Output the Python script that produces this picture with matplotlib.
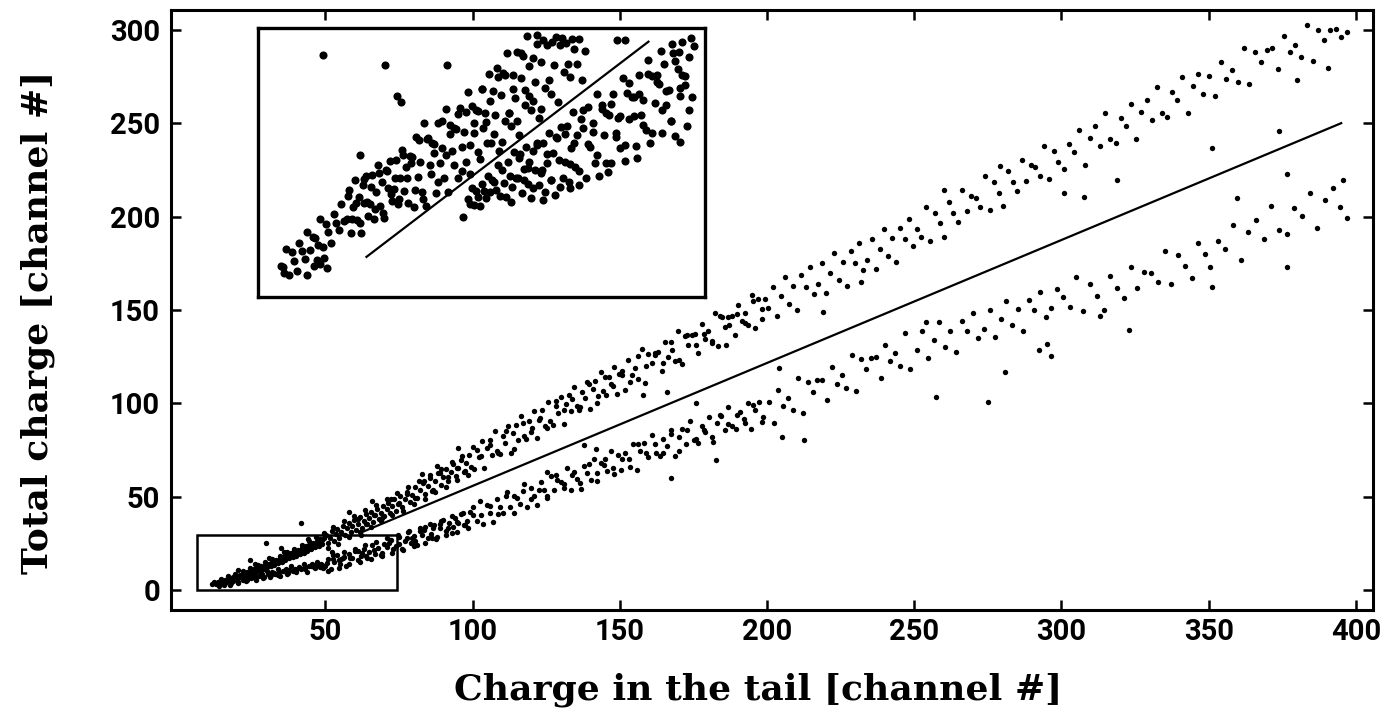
import numpy as np
import matplotlib
matplotlib.use("Agg")
import matplotlib.pyplot as plt
from matplotlib.patches import Rectangle

# ---------------------------------------------------------------- data
# events in the upper band (total charge vs. charge in the tail)
upper_band = [
    (11.5, 3.2), (12.3, 4.1), (13.0, 3.0), (13.6, 4.5), (14.2, 3.6), (14.9, 4.9), (15.5, 4.0),
    (16.1, 5.6), (16.8, 4.6), (17.4, 6.0), (18.0, 5.2), (18.7, 6.8), (19.3, 5.7), (19.9, 7.4),
    (20.4, 6.3), (21.0, 8.1), (21.6, 7.0), (22.3, 8.9), (22.9, 7.6), (23.4, 9.8), (24.0, 8.2),
    (24.7, 10.1), (25.3, 9.0), (25.9, 11.2), (26.4, 9.7), (27.1, 11.8), (27.8, 10.4), (28.3, 12.6),
    (28.9, 11.2), (29.5, 13.5), (30.2, 12.1), (30.8, 14.2), (31.4, 12.9), (32.0, 15.3), (32.7, 13.6),
    (33.3, 16.0), (33.9, 14.5), (34.5, 17.1), (35.2, 15.2), (35.8, 17.9), (36.4, 16.0), (37.0, 18.7),
    (37.7, 16.9), (38.3, 19.6), (38.9, 17.5), (39.5, 20.8), (40.2, 18.3), (40.8, 21.4), (41.4, 19.2),
    (42.0, 22.5), (42.7, 20.0), (43.3, 23.4), (43.9, 21.1), (44.6, 24.0), (45.2, 21.8), (45.8, 25.2),
    (46.4, 22.9), (47.1, 26.0), (47.7, 23.7), (48.3, 27.1), (48.9, 24.6), (49.6, 28.0),
    (20.5, 10.5), (26.0, 13.8), (31.0, 17.0), (36.0, 20.5), (44.0, 27.5), (29.8, 25.0), (41.7, 36.0),
    (24.5, 16.0), (35.0, 22.5),
    (12.6, 3.9), (13.9, 4.4), (15.2, 4.8), (16.5, 5.5), (17.8, 6.0), (19.1, 6.6), (20.4, 7.4),
    (21.7, 8.0), (23.0, 8.9), (24.3, 9.5), (25.6, 10.5), (26.9, 11.0), (28.2, 11.9), (29.5, 12.5),
    (30.8, 13.6), (32.1, 14.4), (33.4, 15.3), (34.7, 16.0), (36.0, 17.0), (37.3, 17.8), (38.6, 18.7),
    (39.9, 19.6), (41.2, 20.6), (42.5, 21.5), (43.8, 22.7), (45.1, 23.5), (46.4, 24.6), (47.7, 25.5),
    (49.0, 26.6),
    (14.5, 6.0), (17.0, 7.3), (19.5, 8.7), (22.0, 10.2), (24.5, 11.6), (27.0, 13.3), (29.5, 14.9),
    (32.0, 16.6), (34.5, 18.4), (37.0, 20.2), (39.5, 22.1), (42.0, 24.1), (44.5, 26.0), (47.0, 28.2),
    (49.5, 30.3),
    (50.3, 29.5), (51.0, 25.0), (51.6, 27.8), (52.2, 31.6), (52.9, 26.3), (53.5, 29.9), (54.1, 32.8),
    (54.8, 28.0), (55.4, 31.2), (56.0, 34.5), (56.7, 29.4), (57.3, 33.0), (57.9, 35.9), (58.6, 31.0),
    (59.2, 34.2), (59.8, 37.4), (60.5, 32.3), (61.1, 35.6), (61.8, 38.9), (62.4, 33.4), (63.0, 37.0),
    (63.7, 40.5), (64.3, 35.2), (65.0, 38.4), (65.6, 42.0), (66.3, 36.5), (66.9, 40.1), (67.5, 43.6),
    (68.2, 38.0), (68.8, 41.5), (69.5, 45.1), (70.1, 39.6), (70.8, 43.2), (71.4, 46.8), (72.1, 41.0),
    (72.7, 44.8), (73.4, 48.6), (74.0, 42.5), (74.7, 46.3), (75.3, 50.2), (76.2, 44.6), (77.0, 48.5),
    (77.9, 52.6), (78.8, 46.9), (79.6, 51.0), (80.5, 55.0), (81.3, 49.2), (82.2, 53.3), (83.1, 57.4),
    (84.0, 51.5), (84.8, 55.7), (85.7, 59.9), (86.6, 53.8), (87.4, 58.2), (88.3, 62.4), (89.2, 56.0),
    (90.0, 60.6), (90.9, 64.8), (91.8, 58.5), (92.6, 63.0), (93.5, 67.3), (94.4, 60.9), (95.2, 65.4),
    (96.1, 69.8), (97.0, 63.2), (97.8, 67.8), (98.7, 72.3), (99.5, 65.7),
    (58.0, 42.0), (66.0, 47.5), (83.0, 62.0), (95.0, 76.0), (88.0, 66.5), (62.0, 29.5),
    (61.0, 37.9), (63.8, 35.5), (66.6, 40.3), (69.4, 38.5), (72.2, 48.8), (75.0, 46.4), (77.8, 51.4),
    (80.6, 49.5), (83.4, 58.3), (86.2, 52.8), (89.0, 62.9), (91.8, 60.7), (94.6, 65.6), (97.4, 64.0),
    (50.8, 22.6), (52.6, 33.5), (54.4, 24.9), (56.2, 36.8), (58.1, 28.4), (59.9, 39.5), (61.7, 31.0),
    (63.5, 42.6), (65.4, 33.8), (67.2, 45.3), (69.0, 37.2), (70.9, 48.9), (72.7, 40.0), (74.5, 51.8),
    (76.4, 42.4), (78.2, 55.4), (80.0, 46.3), (81.9, 58.4), (83.7, 49.0), (85.5, 61.5), (87.4, 52.3),
    (89.2, 65.0), (91.0, 55.0), (92.9, 68.6), (94.7, 58.8), (96.5, 72.0), (98.4, 61.5),
    (100.5, 65.0), (101.4, 74.8), (102.3, 71.1), (103.1, 79.9), (104.0, 65.4), (104.9, 76.1),
    (105.8, 80.5), (106.7, 72.3), (107.6, 85.2), (108.4, 74.7), (109.3, 72.8), (110.2, 82.6),
    (111.1, 78.9), (112.0, 87.8), (112.9, 73.3), (113.8, 83.9), (114.7, 88.3), (115.6, 80.1),
    (116.5, 93.0), (117.4, 82.6), (118.3, 80.7), (119.2, 90.5), (120.1, 86.8), (121.0, 95.7),
    (121.9, 81.2), (122.8, 91.9), (123.7, 96.3), (124.6, 88.0), (125.5, 100.9), (126.4, 90.5),
    (127.3, 88.6), (128.2, 98.4), (129.1, 94.7), (130.0, 103.6), (130.9, 89.1), (131.8, 99.8),
    (132.7, 104.2), (133.6, 96.0), (134.5, 108.9), (135.4, 98.5), (136.3, 96.6), (137.2, 106.3),
    (138.1, 102.6), (139.0, 111.5), (139.9, 97.0), (140.8, 107.7), (141.7, 112.1), (142.6, 103.9),
    (143.5, 116.8), (144.4, 106.4), (145.3, 104.5), (146.2, 114.3), (147.1, 110.5), (148.0, 119.4),
    (148.9, 104.9), (149.8, 115.6),
    (100.2, 76.5), (103.0, 71.7), (105.8, 77.8), (108.6, 73.5), (111.4, 85.4), (114.2, 75.7),
    (117.0, 89.5), (119.8, 84.7), (122.6, 90.8), (125.4, 87.0), (128.2, 101.1), (131.0, 96.4),
    (133.8, 102.4), (136.6, 98.2), (139.4, 110.1), (142.2, 100.4), (145.0, 114.1), (147.8, 109.4),
    (150.6, 117.5), (151.7, 107.3), (152.9, 123.3), (154.0, 115.1), (155.1, 119.0), (156.3, 112.9),
    (157.4, 128.8), (158.5, 111.1), (159.7, 126.6), (160.8, 121.4), (161.9, 126.8), (163.1, 127.2),
    (164.2, 117.1), (165.3, 132.9), (166.5, 124.9), (167.6, 128.7), (168.7, 122.6), (169.9, 138.5),
    (171.0, 120.9), (172.1, 136.2), (173.3, 131.2), (174.4, 136.5), (175.5, 136.9), (176.7, 126.8),
    (177.8, 142.7), (178.9, 134.5), (180.1, 138.5), (181.2, 132.3), (182.3, 148.2), (183.5, 130.6),
    (184.6, 146.0), (185.7, 140.8), (186.9, 146.3), (188.0, 146.6), (189.1, 136.5), (190.3, 152.4),
    (191.4, 144.3), (192.5, 148.2), (193.7, 142.1), (194.8, 158.0), (195.9, 140.3), (197.1, 155.7),
    (198.2, 150.6), (199.3, 156.0),
    (150.6, 115.4), (153.4, 111.3), (156.2, 125.1), (159.0, 120.1), (161.8, 125.9), (164.6, 121.4),
    (167.4, 133.0), (170.2, 123.1), (173.0, 136.4), (175.8, 131.4), (178.6, 137.2), (181.4, 133.1),
    (184.2, 147.0), (187.0, 142.0), (189.8, 147.7), (192.6, 143.2), (195.4, 154.8), (198.2, 144.9),
    (166.0, 106.0), (176.0, 100.0), (204.2, 118.9), (186.0, 131.0), (158.0, 104.5),
    (200.5, 151.0), (201.9, 162.2), (203.3, 146.5), (204.7, 157.2), (206.1, 167.8), (207.5, 153.3),
    (208.9, 162.8), (210.3, 150.0), (211.7, 168.5), (213.1, 162.4), (214.5, 173.0), (215.9, 158.5),
    (217.3, 163.7), (218.7, 175.0), (220.1, 159.3), (221.5, 169.9), (222.9, 180.6), (224.3, 166.1),
    (225.7, 175.5), (227.1, 162.8), (228.5, 181.3), (229.9, 175.1), (231.3, 185.8), (232.7, 171.3),
    (234.1, 176.5), (235.5, 187.8), (236.9, 172.0), (238.3, 182.7), (239.7, 193.4), (241.1, 178.8),
    (242.5, 188.3), (243.9, 175.6), (245.3, 194.0), (246.7, 187.9), (248.1, 198.6), (249.5, 184.0),
    (218.9, 149.0), (232.0, 165.0),
    (250.8, 193.5), (252.4, 188.8), (253.9, 205.0), (255.5, 187.1), (257.0, 202.1), (258.6, 196.3),
    (260.1, 189.1), (261.7, 207.8), (263.2, 201.8), (264.8, 197.1), (266.3, 214.0), (267.9, 202.7),
    (269.4, 211.1), (271.0, 210.0), (272.5, 205.3), (274.1, 221.6), (275.6, 203.6), (277.2, 218.7),
    (278.7, 212.7), (280.3, 205.6), (281.8, 224.3), (283.4, 218.4), (284.9, 213.6), (286.5, 230.5),
    (288.0, 219.2), (289.6, 227.7), (291.1, 226.5), (292.7, 221.8), (294.2, 238.0), (295.8, 220.2),
    (297.3, 235.2), (298.9, 229.3), (260.0, 214.0), (279.0, 227.0),
    (300.9, 225.5), (302.6, 238.9), (304.4, 234.3), (306.1, 246.5), (307.9, 227.5), (309.6, 242.1),
    (311.4, 248.3), (313.1, 237.7), (314.9, 255.3), (316.6, 241.7), (318.4, 239.5), (320.1, 252.9),
    (321.9, 248.3), (323.6, 260.5), (325.4, 241.5), (327.1, 256.1), (328.9, 262.3), (330.6, 251.7),
    (332.4, 269.3), (334.1, 255.7), (335.9, 253.5), (337.6, 266.9), (339.4, 262.3), (341.1, 274.5),
    (342.9, 255.5), (344.6, 270.1), (346.4, 276.3), (348.1, 265.7),
    (301.0, 212.6), (307.8, 210.5), (318.7, 219.6), (351.0, 236.7),
    (350.2, 275.4), (352.1, 264.6), (354.1, 282.5), (356.0, 273.9), (358.0, 278.5), (359.9, 272.1),
    (361.9, 290.0), (363.8, 270.9), (365.8, 288.2), (367.7, 282.9), (369.7, 289.2), (371.6, 290.0),
    (373.6, 279.2), (375.5, 296.9), (377.5, 287.9), (379.4, 292.1), (381.4, 285.3), (383.3, 302.6),
    (385.3, 283.1), (387.2, 300.0), (389.2, 294.3), (391.1, 300.1), (393.1, 300.4), (395.0, 296.0),
    (374.0, 246.0), (390.4, 279.6), (380.0, 273.0), (397.0, 299.0),
]

# events in the lower band
lower_band = [
    (14.0, 2.3), (14.9, 4.4), (15.8, 3.6), (16.7, 5.4), (17.6, 2.9), (18.5, 5.0), (19.4, 5.8),
    (20.3, 4.5), (21.2, 6.9), (22.1, 5.1), (23.0, 4.9), (23.9, 7.0), (24.8, 6.2), (25.7, 8.0),
    (26.6, 5.6), (27.5, 7.7), (28.4, 8.5), (29.3, 7.2), (30.2, 10.0), (31.1, 6.8), (32.0, 9.8),
    (32.9, 8.6), (33.8, 11.1), (34.7, 7.3), (35.6, 10.3), (36.5, 11.5), (37.4, 9.3), (38.3, 12.7),
    (39.2, 10.0), (40.1, 9.5), (41.0, 12.5), (41.9, 11.2), (42.8, 13.7), (43.7, 9.8), (44.6, 12.8),
    (45.5, 13.9), (46.4, 11.7), (47.3, 15.0), (48.2, 12.3), (49.1, 11.8),
    (30.6, 8.4), (32.5, 9.0), (34.2, 9.4), (36.0, 10.1), (37.8, 10.7), (39.6, 11.4), (41.4, 11.8),
    (43.2, 12.4), (45.0, 13.1), (46.8, 13.4), (48.6, 14.0), (50.5, 14.6), (52.5, 16.5), (54.5, 16.0),
    (56.5, 17.6), (58.5, 17.0),
    (15.5, 2.6), (18.0, 3.6), (20.5, 3.8), (23.5, 5.6), (26.0, 6.4), (28.8, 6.3), (31.5, 8.0),
    (34.0, 8.2), (37.0, 8.8), (40.0, 10.5), (43.0, 11.0), (46.0, 12.3), (48.8, 13.3),
    (50.0, 12.7), (51.0, 16.6), (52.0, 11.4), (53.0, 15.1), (54.0, 18.7), (55.0, 14.0), (56.0, 17.2),
    (57.0, 13.1), (58.0, 19.3), (59.0, 17.4), (60.0, 21.0), (61.0, 16.3), (62.0, 18.1), (63.0, 22.0),
    (64.0, 16.9), (65.0, 20.5), (66.0, 24.2), (67.0, 19.5), (68.0, 22.7), (69.0, 18.6), (70.0, 24.9),
    (71.0, 22.9), (72.0, 26.6), (73.0, 21.9), (74.0, 23.7), (75.0, 28.3), (76.0, 21.8), (77.0, 26.4),
    (78.0, 30.9), (79.0, 25.0), (80.0, 29.1), (81.0, 23.9), (82.0, 31.7), (83.0, 29.3), (84.0, 33.8),
    (85.0, 27.9), (86.0, 30.2), (87.0, 35.0), (88.0, 28.6), (89.0, 33.1), (90.0, 37.7), (91.0, 31.8),
    (92.0, 35.8), (93.0, 30.6), (94.0, 38.4), (95.0, 36.0), (96.0, 40.6), (97.0, 34.6), (98.0, 36.9),
    (99.0, 41.7), (55.5, 16.5), (62.5, 20.0), (71.5, 25.0), (79.5, 28.0), (86.5, 33.0), (93.5, 34.0),
    (52.3, 20.4),
    (61.0, 20.7), (63.8, 18.4), (66.6, 21.5), (69.4, 19.7), (72.2, 26.9), (75.0, 24.6), (77.8, 27.9),
    (80.6, 26.1), (83.4, 32.4), (86.2, 27.9), (89.0, 35.1), (91.8, 33.0), (94.6, 36.5), (97.4, 34.8),
    (50.9, 10.4), (52.7, 18.6), (54.5, 11.6), (56.3, 20.1), (58.2, 13.9), (60.0, 22.2), (61.8, 15.1),
    (63.6, 24.0), (65.5, 16.8), (67.3, 25.9), (69.1, 18.0), (71.0, 27.8), (72.8, 19.7), (74.6, 29.4),
    (76.5, 21.3), (78.3, 31.6), (80.1, 23.5), (82.0, 33.4), (83.8, 25.1), (85.6, 35.3), (87.5, 27.3),
    (89.3, 37.0), (91.1, 29.5), (93.0, 39.4), (94.8, 31.3), (96.6, 41.2), (98.5, 33.4),
    (100.3, 40.4), (101.4, 37.0), (102.6, 47.8), (103.7, 35.6), (104.9, 45.5), (106.0, 41.4),
    (107.1, 36.5), (108.3, 48.8), (109.4, 44.6), (110.5, 41.3), (111.7, 52.4), (112.8, 44.7),
    (114.0, 50.2), (115.1, 49.3), (116.2, 45.9), (117.4, 56.6), (118.5, 44.5), (119.7, 54.4),
    (120.8, 50.3), (121.9, 45.3), (123.1, 57.7), (124.2, 53.5), (125.4, 50.2), (126.5, 61.3),
    (127.6, 53.6), (128.8, 59.1), (129.9, 58.1), (131.0, 54.8), (132.2, 65.5), (133.3, 53.4),
    (134.5, 63.3), (135.6, 59.2), (136.7, 54.2), (137.9, 66.5), (139.0, 62.4), (140.2, 59.1),
    (141.3, 70.2), (142.4, 62.4), (143.6, 68.0), (144.7, 67.0), (145.8, 63.7), (147.0, 74.4),
    (148.1, 62.3), (149.3, 72.2), (125.4, 63.2), (138.0, 77.7), (142.0, 75.5),
    (100.2, 44.7), (103.0, 40.0), (105.8, 44.9), (108.6, 40.6), (111.4, 50.6), (114.2, 41.5),
    (117.0, 53.2), (119.8, 48.5), (122.6, 53.4), (125.4, 49.4), (128.2, 61.5), (131.0, 56.8),
    (133.8, 61.7), (136.6, 57.4), (139.4, 67.4), (142.2, 58.3), (145.0, 70.0), (147.8, 65.3),
    (150.5, 64.2), (151.8, 73.4), (153.1, 69.9), (154.4, 78.3), (155.7, 64.5), (157.0, 74.6),
    (158.3, 78.7), (159.6, 71.0), (160.9, 83.2), (162.2, 73.3), (163.5, 71.5), (164.8, 80.7),
    (166.1, 77.2), (167.4, 85.5), (168.7, 71.9), (170.0, 81.9), (171.3, 86.0), (172.6, 78.3),
    (173.9, 90.5), (175.2, 80.6), (176.5, 78.7), (177.8, 88.0), (179.1, 84.5), (180.4, 92.8),
    (181.7, 79.2), (183.0, 89.2), (184.3, 93.3), (185.6, 85.5), (186.9, 97.8), (188.2, 87.9),
    (189.5, 86.0), (190.8, 95.2), (192.1, 91.8), (193.4, 100.1), (194.7, 86.4), (196.0, 96.5),
    (197.3, 100.6), (198.6, 92.8), (167.5, 60.0), (182.8, 69.6), (205.0, 82.0), (212.7, 80.3),
    (150.6, 70.1), (153.4, 66.1), (156.2, 78.1), (159.0, 73.2), (161.8, 78.0), (164.6, 73.6),
    (167.4, 83.5), (170.2, 74.3), (173.0, 85.9), (175.8, 81.0), (178.6, 85.8), (181.4, 81.8),
    (184.2, 93.8), (186.9, 88.9), (189.8, 93.7), (192.6, 89.3), (195.4, 99.2), (198.2, 90.0),
    (200.6, 100.7), (202.3, 89.7), (203.9, 107.3), (205.6, 98.5), (207.2, 102.9), (208.9, 96.3),
    (210.5, 113.8), (212.2, 94.6), (213.8, 111.6), (215.5, 106.1), (217.1, 112.2), (218.8, 112.7),
    (220.4, 101.7), (222.1, 119.3), (223.7, 110.4), (225.4, 114.9), (227.0, 108.2), (228.7, 125.8),
    (230.3, 106.5), (232.0, 123.6), (233.6, 118.1), (235.3, 124.2), (236.9, 124.7), (238.6, 113.7),
    (240.2, 131.2), (241.9, 122.5), (243.5, 126.8), (245.2, 120.2), (246.8, 137.8), (248.5, 118.5),
    (254.0, 143.5), (275.0, 100.7), (257.4, 103.5), (292.5, 128.5), (295.0, 132.0), (296.5, 125.5),
    (280.7, 116.8),
    (250.9, 128.3), (252.8, 138.6), (254.7, 124.1), (256.6, 133.9), (258.5, 143.6), (260.4, 130.3),
    (262.3, 138.9), (264.2, 127.2), (266.1, 144.1), (268.0, 138.5), (269.9, 148.2), (271.8, 134.9),
    (273.7, 139.7), (275.6, 150.0), (277.5, 135.5), (279.4, 145.3), (281.3, 155.0), (283.2, 141.7),
    (285.1, 150.3), (287.0, 138.6), (288.9, 155.5), (290.8, 149.9), (292.7, 159.6), (294.6, 146.3),
    (296.5, 151.1), (298.4, 161.4),
    (300.5, 157.0), (302.8, 151.8), (305.1, 167.6), (307.4, 149.3), (309.7, 163.9), (312.0, 157.5),
    (314.3, 149.9), (316.6, 168.2), (318.9, 161.8), (321.2, 156.6), (323.5, 173.1), (325.8, 161.5),
    (328.1, 170.3), (330.4, 169.5), (332.7, 165.0), (335.0, 181.6), (337.3, 164.0), (339.6, 179.3),
    (341.9, 173.7), (344.2, 166.9), (346.5, 185.8), (348.8, 180.2), (323.0, 139.0), (313.0, 146.5),
    (350.5, 173.1), (353.1, 186.9), (355.7, 182.7), (358.3, 195.2), (360.9, 176.6), (363.5, 191.6),
    (366.1, 198.2), (368.7, 187.9), (371.3, 205.9), (373.9, 192.7), (376.5, 190.8), (379.1, 204.4),
    (381.7, 200.1), (384.3, 212.6), (386.9, 193.9), (389.5, 208.8), (392.1, 215.3), (394.7, 205.0),
    (395.5, 219.6), (376.5, 223.0), (397.0, 199.0), (376.5, 173.0), (351.0, 162.0), (359.5, 210.0),
]

# separation line drawn between the two bands
cut_x = [62.0, 395.0]
cut_y = [30.7, 250.0]

# region shown enlarged in the inset
zoom_x = (6.5, 74.5)
zoom_y = (0.0, 29.5)

# enlarged view: upper and lower groups of events and their separation line
inset_upper = [
    (10.0, 3.4), (10.4, 2.6), (10.8, 5.3), (11.2, 2.4), (11.6, 4.9), (12.0, 4.0), (12.4, 2.8),
    (12.8, 5.9), (13.2, 5.0), (13.6, 4.2), (14.0, 7.1), (14.4, 5.2), (14.8, 6.6), (15.2, 6.5),
    (15.6, 5.7), (16.0, 8.5), (16.4, 5.5), (16.8, 8.0), (17.2, 7.1), (17.6, 5.9), (18.0, 9.1),
    (18.4, 8.1), (18.8, 7.3), (19.2, 10.2), (19.6, 8.3),
    (15.4, 4.1), (16.0, 3.6), (16.6, 4.3), (15.0, 3.4), (17.0, 3.2), (13.9, 2.4), (10.3, 3.3),
    (20.0, 8.6), (20.3, 11.7), (20.6, 7.0), (20.9, 9.9), (21.2, 12.8), (21.5, 8.4), (21.8, 11.0),
    (22.1, 7.0), (22.4, 12.3), (22.7, 10.3), (23.0, 13.3), (23.3, 8.9), (23.6, 10.2), (23.9, 13.4),
    (24.2, 8.6), (24.5, 11.5), (24.8, 14.5), (25.1, 10.0), (25.4, 12.6), (25.7, 8.7), (26.0, 13.9),
    (26.3, 11.9), (26.6, 14.9), (26.9, 10.5), (27.2, 11.8), (27.5, 15.0), (27.8, 10.2), (28.1, 13.1),
    (28.4, 16.1), (28.7, 11.6), (29.0, 14.3), (29.3, 10.3), (29.6, 15.5),
    (30.0, 15.3), (30.3, 9.9), (30.6, 17.6), (30.9, 13.2), (31.2, 14.8), (31.5, 11.5), (31.8, 19.1),
    (32.1, 10.0), (32.4, 17.4), (32.7, 14.5), (33.0, 16.9), (33.3, 16.8), (33.6, 11.4), (33.9, 19.1),
    (34.2, 14.7), (34.5, 16.3), (34.8, 13.0), (35.1, 20.6), (35.4, 11.5), (35.7, 18.9), (36.0, 16.0),
    (36.3, 18.5), (36.6, 18.4), (36.9, 13.1), (37.2, 20.7), (37.5, 16.4), (37.8, 18.1), (38.1, 14.8),
    (38.4, 22.5), (38.7, 13.5), (39.0, 20.9), (39.3, 18.0), (39.6, 20.5), (39.9, 20.4), (40.2, 15.1),
    (40.5, 22.8), (40.8, 18.5), (41.1, 20.2), (41.4, 16.9), (41.7, 24.5),
    (42.0, 16.9), (42.3, 22.6), (42.6, 20.0), (42.9, 25.1), (43.2, 16.0), (43.5, 22.2), (43.8, 24.6),
    (44.1, 19.3), (44.4, 26.8), (44.7, 20.2), (45.0, 18.7), (45.3, 24.4), (45.6, 21.8), (45.9, 26.9),
    (46.2, 17.8), (46.5, 24.0), (46.8, 26.4), (47.1, 21.1), (47.4, 28.6), (47.7, 22.0), (48.0, 20.5),
    (48.3, 26.2), (48.6, 23.6), (48.9, 28.7), (49.2, 19.6), (49.5, 25.8), (49.8, 28.2), (50.1, 22.9),
    (50.4, 27.6), (50.7, 23.8), (51.0, 22.3), (51.3, 28.0), (51.6, 25.4), (51.9, 28.5), (52.2, 21.4),
    (52.5, 27.6), (52.8, 28.4), (53.1, 24.7), (53.4, 27.9), (53.7, 25.6), (54.0, 24.1), (54.3, 28.3),
    (54.6, 27.2), (55.0, 25.5), (55.4, 28.3), (55.8, 23.8), (56.2, 27.0),
    (20.15, 11.1), (20.75, 8.6), (21.35, 10.3), (21.95, 8.1), (22.55, 12.9), (23.15, 10.4),
    (23.75, 12.1), (24.35, 9.7), (24.95, 13.6), (25.55, 9.2), (26.15, 13.8), (26.75, 11.3),
    (27.35, 13.0), (27.95, 10.8), (28.55, 15.6), (29.15, 13.1), (29.75, 14.7), (30.35, 11.7),
    (30.95, 17.2), (31.55, 10.8), (32.15, 17.3), (32.75, 13.5), (33.35, 15.8), (33.95, 12.6),
    (34.55, 19.3), (35.15, 15.6), (35.75, 17.9), (36.35, 14.5), (36.95, 20.1), (37.55, 13.8),
    (38.15, 20.3), (38.75, 16.7), (39.35, 19.1), (39.95, 15.9), (40.55, 22.8), (41.15, 19.2),
    (41.75, 21.5), (42.35, 17.9), (42.95, 24.1), (43.55, 17.0), (44.15, 24.3), (44.75, 20.2),
    (45.35, 22.8), (45.95, 19.3), (46.55, 26.8), (47.15, 22.7), (47.75, 25.3), (48.35, 21.5),
    (48.95, 27.7), (49.55, 20.6),
    (16.4, 26.5), (25.8, 25.4), (35.2, 25.4), (27.6, 22.0), (28.3, 21.4), (22.0, 15.6),
    (61.1, 28.2), (62.4, 28.2),
]

inset_lower = [
    (38.5, 10.7), (38.8, 10.2), (39.1, 11.9), (39.4, 10.1), (39.7, 11.6), (40.0, 11.0), (40.3, 10.0),
    (40.6, 12.4), (40.9, 11.6), (41.2, 10.85), (41.5, 13.3), (41.8, 11.5), (42.1, 12.8), (42.4, 12.6),
    (42.7, 11.7), (43.0, 14.5), (43.3, 11.1), (43.6, 13.9), (43.9, 12.5), (44.2, 11.0), (44.5, 14.8),
    (44.8, 13.3), (45.1, 12.1), (45.4, 15.9), (45.7, 13.0),
    (46.0, 13.0), (46.3, 15.7), (46.6, 11.4), (46.9, 14.0), (47.2, 16.5), (47.5, 12.4), (47.8, 14.85),
    (48.1, 10.9), (48.4, 16.0), (48.7, 13.9), (49.0, 16.9), (49.3, 12.3), (49.6, 13.6), (49.9, 16.9),
    (50.2, 11.5), (50.5, 14.7), (50.8, 18.0), (51.1, 12.8), (51.4, 15.8), (51.7, 11.2), (52.0, 17.4),
    (52.3, 15.0), (52.6, 18.6), (52.9, 13.1), (53.2, 14.8), (53.5, 18.7), (53.8, 12.6), (54.1, 16.3),
    (54.4, 20.3), (54.7, 14.3), (55.0, 17.8), (55.3, 12.3), (55.6, 19.5),
    (56.0, 18.5), (56.35, 13.1), (56.7, 20.8), (57.05, 16.4), (57.4, 18.1), (57.75, 14.7),
    (58.1, 22.3), (58.45, 13.25), (58.8, 20.6), (59.15, 17.8), (59.5, 20.15), (59.85, 20.0),
    (60.2, 14.7), (60.55, 22.3), (60.9, 18.0), (61.25, 19.6), (61.6, 16.3), (61.95, 24.0),
    (62.3, 14.95), (62.65, 22.4), (63.0, 19.5), (63.35, 21.95), (63.7, 21.9), (64.05, 16.6),
    (64.4, 24.3), (64.75, 20.0), (65.1, 21.6), (65.45, 18.3), (65.8, 26.0), (66.15, 16.85),
    (66.5, 24.2), (66.85, 21.3), (67.2, 23.55), (67.55, 23.4), (67.9, 18.0), (68.25, 25.6),
    (68.6, 21.1), (68.95, 22.7), (69.3, 19.3), (69.65, 26.8), (70.0, 17.65), (70.35, 25.0),
    (70.7, 22.0), (71.05, 24.35), (71.4, 24.2), (71.75, 18.7), (72.1, 26.3), (72.45, 21.9),
    (72.8, 27.5),
    (71.0, 28.0), (72.3, 28.4), (69.5, 27.8), (67.8, 27.0), (70.6, 26.9),
    (46.2, 15.2), (46.9, 12.85), (47.6, 14.2), (48.3, 12.0), (49.0, 16.7), (49.7, 13.9),
    (50.4, 15.7), (51.1, 12.8), (51.8, 17.5), (52.5, 12.1), (53.2, 17.9), (53.9, 14.6),
    (54.6, 16.9), (55.3, 13.8), (56.0, 20.5), (56.7, 16.8), (57.4, 19.1), (58.1, 15.55),
    (58.8, 21.1), (59.5, 14.65), (60.2, 21.2), (60.9, 17.5), (61.6, 19.8), (62.3, 16.7),
    (63.0, 23.5), (63.7, 19.9), (64.4, 22.3), (65.1, 18.85), (65.8, 24.5), (66.5, 17.95),
    (67.2, 24.3), (67.9, 20.5), (68.6, 22.6), (69.3, 19.3), (70.0, 25.9), (70.7, 22.9),
    (71.4, 23.2), (72.1, 20.55),
    (70.7, 17.0), (64.1, 15.2), (59.7, 13.7), (54.0, 12.0), (49.9, 10.6), (45.0, 10.4),
    (37.7, 8.8),
]

inset_cut_x = [23.0, 65.9]
inset_cut_y = [4.4, 28.0]

x_ticks = [50, 100, 150, 200, 250, 300, 350, 400]
y_ticks = [0, 50, 100, 150, 200, 250, 300]
x_title = "Charge in the tail [channel #]"
y_title = "Total charge [channel #]"

# ---------------------------------------------------------------- figure
W, H = 1386, 719
fig = plt.figure(figsize=(W / 100, H / 100), dpi=100)
fig.patch.set_facecolor("white")

def box(px_left, px_top, px_right, px_bottom):
    return [px_left / W, 1 - px_bottom / H, (px_right - px_left) / W, (px_bottom - px_top) / H]

ax = fig.add_axes(box(171, 10, 1373, 610))
ax.set_xlim(-2.4, 405.8)
ax.set_ylim(-10.7, 310.6)

ux, uy = np.array(upper_band).T
lx, ly = np.array(lower_band).T
main_dot = dict(s=15, marker="o", c="black", linewidths=0)
ax.plot(cut_x, cut_y, color="black", lw=1.6, zorder=2)
ax.scatter(ux, uy, zorder=3, **main_dot)
ax.scatter(lx, ly, zorder=3, **main_dot)

ax.add_patch(Rectangle((zoom_x[0], zoom_y[0]), zoom_x[1] - zoom_x[0], zoom_y[1] - zoom_y[0],
                       fill=False, edgecolor="black", lw=1.8, zorder=4))

tick_font = dict(family="Roboto", weight="bold", size=21)
ax.set_xticks(x_ticks)
ax.set_yticks(y_ticks)
ax.set_xticklabels([str(v) for v in x_ticks], fontdict=tick_font)
ax.set_yticklabels([str(v) for v in y_ticks], fontdict=tick_font)
ax.tick_params(direction="in", top=True, right=True, length=7, width=1.8, color="black")
ax.tick_params(axis="x", pad=6)
ax.tick_params(axis="y", pad=8)
for sp in ax.spines.values():
    sp.set_linewidth(2.2)

label_font = dict(family="DejaVu Serif", weight="bold", size=26, color="black")
fig.text(758 / W, 1 - 690 / H, x_title, ha="center", va="center", **label_font)
fig.text(38 / W, 1 - 322 / H, y_title, ha="center", va="center", rotation=90, **label_font)

# enlarged view of the low-charge corner
ins = fig.add_axes(box(258, 28, 705, 297))
ins.set_xlim(*zoom_x)
ins.set_ylim(*zoom_y)
iux, iuy = np.array(inset_upper).T
ilx, ily = np.array(inset_lower).T
inset_dot = dict(s=34, marker="o", c="black", linewidths=0)
ins.plot(inset_cut_x, inset_cut_y, color="black", lw=1.6, zorder=2)
ins.scatter(iux, iuy, zorder=3, **inset_dot)
ins.scatter(ilx, ily, zorder=3, **inset_dot)
ins.set_xticks([])
ins.set_yticks([])
for sp in ins.spines.values():
    sp.set_linewidth(2.4)

fig.savefig("out.png", dpi=100, facecolor="white")
